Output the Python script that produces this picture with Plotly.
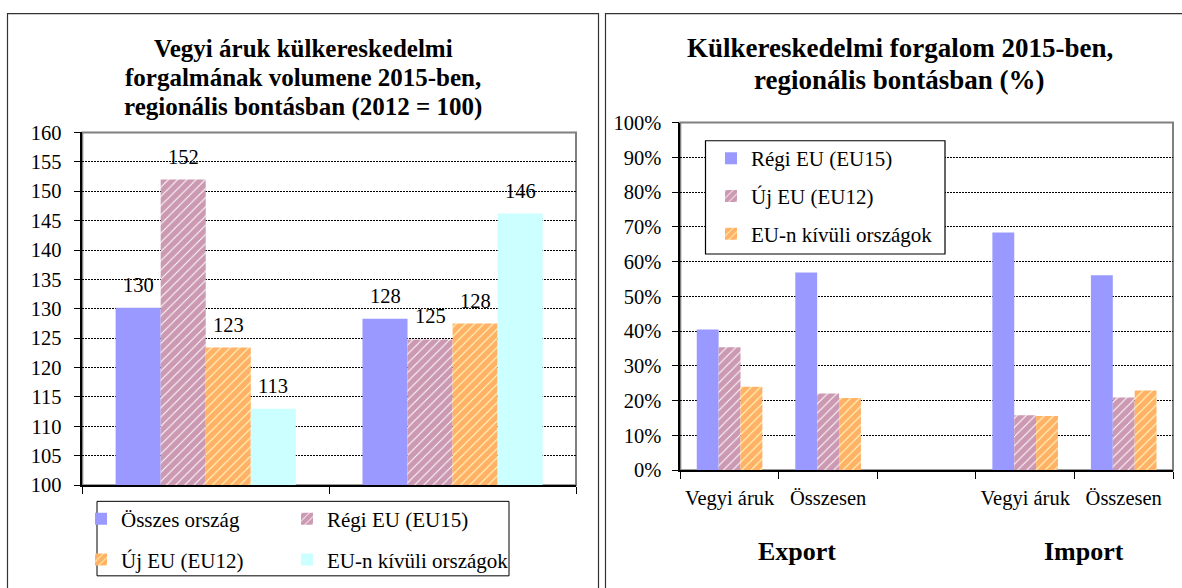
import plotly.graph_objects as go

W, H = 1182, 588
FONT = "Liberation Serif, Times New Roman, serif"

# ---------------- data: left chart ----------------
left_title = ["Vegyi áruk külkereskedelmi",
              "forgalmának volumene 2015-ben,",
              "regionális bontásban (2012 = 100)"]
left_categories = ["Export", "Import"]
left_series = ["Összes ország", "Régi EU (EU15)", "Új EU (EU12)", "EU-n kívüli országok"]
osszes_orszag = [130.2, 128.3]
regi_eu_left = [152.0, 124.8]
uj_eu_left = [123.4, 127.5]
eun_kivuli_left = [113.0, 146.2]
left_y_ticks = list(range(100, 161, 5))

# ---------------- data: right chart ----------------
right_title = ["Külkereskedelmi forgalom 2015-ben,",
               "regionális bontásban (%)"]
right_categories = ["Export – Vegyi áruk", "Export – Összesen", "(üres)",
                    "Import – Vegyi áruk", "Import – Összesen"]
right_tick_labels = ["Vegyi áruk", "Összesen", "", "Vegyi áruk", "Összesen"]
right_groups = ["Export", "Import"]
right_series = ["Régi EU (EU15)", "Új EU (EU12)", "EU-n kívüli országok"]
regi_eu_right = [40.5, 56.9, None, 68.4, 56.1]
uj_eu_right = [35.4, 22.1, None, 15.8, 20.9]
eun_kivuli_right = [24.0, 20.8, None, 15.6, 22.9]
right_y_ticks = list(range(0, 101, 10))
right_y_ticktext = [f"{v}%" for v in right_y_ticks]

# ---------------- styles ----------------
BLUE = "#9999FF"
CYAN = "#CCFFFF"
MAROON = "#993366"
ORANGE = "#FF6600"
regi_pat = dict(shape="/", fgcolor=MAROON, bgcolor="white", size=6.5, solidity=0.85)
uj_pat = dict(shape="/", fgcolor=ORANGE, bgcolor="#FFFFCC", size=6.5, solidity=0.85)

# vertical placement correction observed in the rendered picture
VS, VO = 0.969, 9.4


def px(x):
    return x / W


def wy(y):
    return (y - VO) / VS


def py(y):
    return 1 - wy(y) / H


# plot area geometry (target pixels)
L_X0, L_X1, L_Y0, L_Y1 = 82.3, 576.0, 131.7, 486.7
R_X0, R_X1, R_Y0, R_Y1 = 680.3, 1173.0, 121.7, 471.7
LEFT_BARGAP = 0.27
R_BAR_W = 0.222

fig = go.Figure()

left_vals = [osszes_orszag, regi_eu_left, uj_eu_left, eun_kivuli_left]
left_colors = [BLUE, MAROON, ORANGE, CYAN]
left_pats = [None, regi_pat, uj_pat, None]
left_legends = ["legend", "legend2", "legend3", "legend4"]
for name, vals, col, pat, lg in zip(left_series, left_vals, left_colors, left_pats, left_legends):
    marker = dict(color=col, line=dict(width=0))
    if pat:
        marker["pattern"] = pat
    fig.add_trace(go.Bar(x=left_categories, y=vals, name=name, marker=marker,
                         xaxis="x", yaxis="y", legend=lg, hoverinfo="skip"))

right_vals = [regi_eu_right, uj_eu_right, eun_kivuli_right]
right_colors = [BLUE, MAROON, ORANGE]
right_pats = [None, regi_pat, uj_pat]
right_legends = ["legend5", "legend6", "legend7"]
for i, (name, vals, col, pat, lg) in enumerate(zip(right_series, right_vals, right_colors, right_pats, right_legends)):
    marker = dict(color=col, line=dict(width=0))
    if pat:
        marker["pattern"] = pat
    fig.add_trace(go.Bar(x=right_categories, y=vals, name=name, marker=marker,
                         width=R_BAR_W, offset=-1.5 * R_BAR_W + i * R_BAR_W,
                         xaxis="x2", yaxis="y2", legend=lg, hoverinfo="skip"))

annotations = []
# value labels on left chart
bw = (1 - LEFT_BARGAP) / 4
for si, vals in enumerate(left_vals):
    for ci, v in enumerate(vals):
        annotations.append(dict(
            x=ci - (1 - LEFT_BARGAP) / 2 + (si + 0.5) * bw, y=v, xref="x", yref="y",
            text=f"{v:.0f}", showarrow=False, xanchor="center", yanchor="bottom", yshift=10,
            font=dict(family=FONT, size=20.5, color="black")))

# titles
for k, line in enumerate(left_title):
    annotations.append(dict(x=px(303), y=py(47 + 29.5 * k), xref="paper", yref="paper",
                            text=f"<b>{line}</b>", showarrow=False,
                            xanchor="center", yanchor="middle",
                            font=dict(family=FONT, size=25, color="black")))
for k, line in enumerate(right_title):
    annotations.append(dict(x=px(900), y=py(47 + 32 * k), xref="paper", yref="paper",
                            text=f"<b>{line}</b>", showarrow=False,
                            xanchor="center", yanchor="middle",
                            font=dict(family=FONT, size=27, color="black")))
# group labels
for g, gx in zip(right_groups, [797, 1084]):
    annotations.append(dict(x=px(gx), y=py(553), xref="paper", yref="paper",
                            text=f"<b>{g}</b>", showarrow=False,
                            xanchor="center", yanchor="middle",
                            font=dict(family=FONT, size=26, color="black")))

shapes = [
    # outer frames
    dict(type="rect", xref="paper", yref="paper", x0=px(7.5), x1=px(598.5), y0=py(12), y1=py(640),
         line=dict(color="#333333", width=1.2), layer="below"),
    dict(type="rect", xref="paper", yref="paper", x0=px(605.5), x1=px(1200), y0=py(12), y1=py(640),
         line=dict(color="#333333", width=1.2), layer="below"),
    # plot area borders
    dict(type="rect", xref="paper", yref="paper", x0=px(L_X0), x1=px(L_X1), y0=py(L_Y1), y1=py(L_Y0),
         line=dict(color="#808080", width=2), layer="between"),
    dict(type="rect", xref="paper", yref="paper", x0=px(R_X0), x1=px(R_X1), y0=py(R_Y1), y1=py(R_Y0),
         line=dict(color="#808080", width=2), layer="between"),
    # legend boxes
    dict(type="rect", xref="paper", yref="paper", x0=px(97), x1=px(509), y0=py(578), y1=py(503),
         line=dict(color="black", width=1), fillcolor="white", layer="above"),
    dict(type="rect", xref="paper", yref="paper", x0=px(705.5), x1=px(945), y0=py(254), y1=py(140),
         line=dict(color="black", width=1.2), fillcolor="white", layer="above"),
]

grid = dict(showgrid=True, gridcolor="black", gridwidth=1, griddash="2px,1px")
tickfont = dict(family=FONT, size=20.5, color="black")

layout = dict(
    width=W, height=H, margin=dict(l=0, r=0, t=0, b=0), autosize=False,
    paper_bgcolor="white", plot_bgcolor="white",
    barmode="group", bargap=LEFT_BARGAP, bargroupgap=0,
    font=dict(family=FONT, color="black", size=20),
    xaxis=dict(domain=[px(L_X0), px(L_X1)], anchor="y", type="category",
               range=[-0.5, 1.5], tickson="boundaries", ticks="outside", ticklen=7,
               tickcolor="black", showticklabels=False, showgrid=False,
               showline=True, linecolor="black", linewidth=1.5, zeroline=False),
    yaxis=dict(domain=[py(L_Y1), py(L_Y0)], anchor="x", range=[100, 160],
               tickmode="array", tickvals=left_y_ticks, ticks="outside", ticklen=7,
               tickcolor="black", tickfont=tickfont, showline=True, linecolor="black",
               linewidth=1.5, zeroline=False, ticklabelstandoff=8, **grid),
    xaxis2=dict(domain=[px(R_X0), px(R_X1)], anchor="y2", type="category",
                categoryorder="array", categoryarray=right_categories,
                tickmode="array", tickvals=right_categories, ticktext=right_tick_labels,
                tickangle=0, range=[-0.5, 4.5], tickson="boundaries", ticks="outside",
                ticklen=7, tickcolor="black", tickfont=tickfont, showgrid=False,
                showline=True, linecolor="black", linewidth=1.5, zeroline=False,
                ticklabelstandoff=8),
    yaxis2=dict(domain=[py(R_Y1), py(R_Y0)], anchor="x2", range=[0, 100],
                tickmode="array", tickvals=right_y_ticks, ticktext=right_y_ticktext,
                ticks="outside", ticklen=7, tickcolor="black", tickfont=tickfont,
                showline=True, linecolor="black", linewidth=1.5, zeroline=False,
                ticklabelstandoff=6, **grid),
    annotations=annotations, shapes=shapes, showlegend=True,
)

legend_font = dict(family=FONT, size=21, color="black")
legend_pos = {
    "legend": (81, 521), "legend2": (287, 521),
    "legend3": (81, 562), "legend4": (287, 562),
    "legend5": (711, 158), "legend6": (711, 196), "legend7": (711, 234),
}
for lg, (lx, ly) in legend_pos.items():
    layout[lg] = dict(x=px(lx), y=py(ly), xanchor="left", yanchor="middle",
                      font=legend_font, bgcolor="rgba(0,0,0,0)", borderwidth=0,
                      orientation="v")

fig.update_layout(**layout)
fig.write_html("out.html", config={"displayModeBar": False},
               post_script="document.body.style.margin='0';document.body.style.padding='0';"
                           "document.body.style.overflow='hidden';")
